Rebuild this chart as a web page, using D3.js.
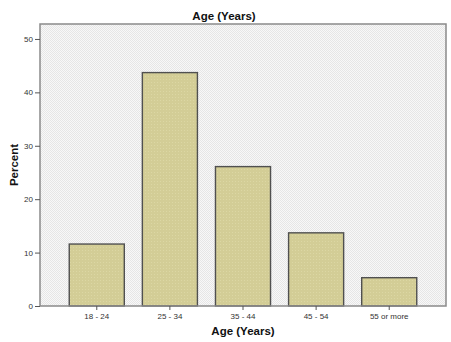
<!DOCTYPE html>
<html><head><meta charset="utf-8">
<script src="https://cdn.jsdelivr.net/npm/d3@7/dist/d3.min.js"></script>
<style>html,body{margin:0;padding:0;background:#fff;}svg{display:block;}</style>
</head><body>
<script>
const categories = ["18 - 24", "25 - 34", "35 - 44", "45 - 54", "55 or more"];
const percentValues = [11.6, 43.7, 26.1, 13.7, 5.3];
const yTicks = [0, 10, 20, 30, 40, 50];
const chartTitle = "Age (Years)";
const xTitle = "Age (Years)";
const yTitle = "Percent";

const W = 451, H = 342;
const mLeft = 40, mRight = 446, mTop = 24, mBottom = 306;

const svg = d3.select("body").append("svg").attr("width", W).attr("height", H);
const defs = svg.append("defs");
const pat = defs.append("pattern").attr("id", "stip").attr("width", 2).attr("height", 2).attr("patternUnits", "userSpaceOnUse");
pat.append("rect").attr("width", 2).attr("height", 2).attr("fill", "#f8f8f8");
pat.append("rect").attr("width", 1).attr("height", 1).attr("fill", "#e6e6e6");
pat.append("rect").attr("x", 1).attr("y", 1).attr("width", 1).attr("height", 1).attr("fill", "#e6e6e6");

const bpat = defs.append("pattern").attr("id", "bstip").attr("width", 3).attr("height", 3).attr("patternUnits", "userSpaceOnUse");
bpat.append("rect").attr("width", 3).attr("height", 3).attr("fill", "#d3cd96");
bpat.append("rect").attr("x", 1).attr("y", 1).attr("width", 1).attr("height", 1).attr("fill", "#dcd7a4");

const x = d3.scaleBand().domain(categories).range([mLeft, mRight]).paddingInner(0.247).paddingOuter(0.40);
const y = d3.scaleLinear().domain([0, 52.8]).range([mBottom, mTop]);

svg.append("rect").attr("x", mLeft).attr("y", mTop).attr("width", mRight - mLeft).attr("height", mBottom - mTop)
  .attr("fill", "url(#stip)");

svg.append("g").selectAll("rect").data(percentValues).join("rect")
  .attr("x", (d, i) => x(categories[i]))
  .attr("y", d => y(d))
  .attr("width", x.bandwidth())
  .attr("height", d => y(0) - y(d))
  .attr("fill", "url(#bstip)")
  .attr("stroke", "#505050")
  .attr("stroke-width", 1.4);

svg.append("rect").attr("x", mLeft).attr("y", mTop).attr("width", mRight - mLeft).attr("height", mBottom - mTop)
  .attr("fill", "none").attr("stroke", "#8a8a8a").attr("stroke-width", 1.5);

const font = "Arial, 'Liberation Sans', sans-serif";
const yAxis = d3.axisLeft(y).tickValues(yTicks).tickSize(5).tickPadding(2).tickFormat(d3.format("d"));
const gy = svg.append("g").attr("transform", `translate(${mLeft},0)`).call(yAxis);
gy.select(".domain").remove();
gy.selectAll("line").attr("stroke", "#555");
gy.selectAll("text").attr("font-family", font).attr("font-size", 8).attr("fill", "#333");

const xAxis = d3.axisBottom(x).tickSize(4).tickPadding(3);
const gx = svg.append("g").attr("transform", `translate(0,${mBottom})`).call(xAxis);
gx.select(".domain").remove();
gx.selectAll("line").attr("stroke", "#555");
gx.selectAll("text").attr("font-family", font).attr("font-size", 8).attr("fill", "#333");

svg.append("text").attr("x", 224).attr("y", 19.5).attr("text-anchor", "middle")
  .attr("font-family", font).attr("font-weight", "bold").attr("font-size", 11.5)
  .attr("fill", "#111").text(chartTitle);
svg.append("text").attr("x", (mLeft + mRight) / 2).attr("y", 335).attr("text-anchor", "middle")
  .attr("font-family", font).attr("font-weight", "bold").attr("font-size", 11.5)
  .attr("fill", "#111").text(xTitle);
svg.append("text").attr("transform", `translate(17.5,${(mTop + mBottom) / 2}) rotate(-90)`).attr("text-anchor", "middle")
  .attr("font-family", font).attr("font-weight", "bold").attr("font-size", 11.5)
  .attr("fill", "#111").text(yTitle);
</script>
</body></html>
